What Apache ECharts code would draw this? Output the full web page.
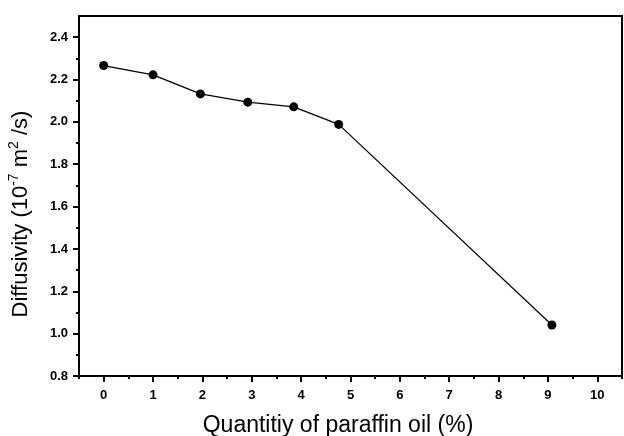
<!DOCTYPE html>
<html>
<head>
<meta charset="utf-8">
<script src="https://cdn.jsdelivr.net/npm/echarts@6/dist/echarts.min.js"></script>
<style>html,body{margin:0;padding:0;background:#fff}#c{width:624px;height:436px}</style>
</head>
<body>
<div id="c"></div>
<script>
var xValues = [0, 1, 1.96, 2.92, 3.85, 4.76, 9.08];
var diffusivity = [2.266, 2.222, 2.132, 2.093, 2.071, 1.988, 1.041];
var xMajorTicks = [0, 1, 2, 3, 4, 5, 6, 7, 8, 9, 10];
var xMinorTicks = [-0.5, 0.5, 1.5, 2.5, 3.5, 4.5, 5.5, 6.5, 7.5, 8.5, 9.5, 10.5];
var yMajorTicks = [0.8, 1.0, 1.2, 1.4, 1.6, 1.8, 2.0, 2.2, 2.4];
var yMinorTicks = [0.9, 1.1, 1.3, 1.5, 1.7, 1.9, 2.1, 2.3];

var chart = echarts.init(document.getElementById('c'));
var font = 'Liberation Sans, Arial, sans-serif';
var labelStyle = {fontFamily: font, fontWeight: 'bold', fontSize: 13, color: '#000'};
chart.setOption({
  animation: false,
  backgroundColor: '#fff',
  grid: {left: 79, top: 16, right: 2, bottom: 60, show: true, borderColor: '#000', borderWidth: 2, containLabel: false, outerBoundsMode: 'none'},
  xAxis: [{
    type: 'value', min: -0.5, max: 10.5, position: 'bottom',
    name: 'Quantitiy of paraffin oil (%)', nameLocation: 'middle', nameGap: 38,
    nameTextStyle: {fontFamily: font, fontSize: 23, color: '#000', padding: [0, 25, 0, 0]},
    axisLine: {show: true, onZero: false, lineStyle: {color: '#000', width: 2}},
    axisTick: {show: true, inside: false, length: 6, customValues: xMajorTicks, lineStyle: {color: '#000', width: 2}},
    axisLabel: {customValues: xMajorTicks, margin: 13, ...labelStyle},
    splitLine: {show: false}
  }, {
    type: 'value', min: -0.5, max: 10.5, position: 'bottom',
    axisLine: {show: false, onZero: false},
    axisTick: {show: true, length: 3, customValues: xMinorTicks, lineStyle: {color: '#000', width: 2}},
    axisLabel: {show: false},
    splitLine: {show: false}
  }],
  yAxis: [{
    type: 'value', min: 0.8, max: 2.5, position: 'left',
    name: '{a|Diffusivity (10}{s|-7}{a| m}{s|2}{a| /s)}', nameLocation: 'middle', nameRotate: 90, nameGap: 44,
    nameTextStyle: {
      padding: [0, 36, 0, 0],
      rich: {
        a: {fontFamily: font, fontSize: 22, color: '#000', lineHeight: 28},
        s: {fontFamily: font, fontSize: 14, color: '#000', verticalAlign: 'top', lineHeight: 14}
      }
    },
    axisLine: {show: true, onZero: false, lineStyle: {color: '#000', width: 2}},
    axisTick: {show: true, length: 6, customValues: yMajorTicks, lineStyle: {color: '#000', width: 2}},
    axisLabel: {customValues: yMajorTicks, margin: 11, formatter: function (v) { return v.toFixed(1); }, ...labelStyle},
    splitLine: {show: false}
  }, {
    type: 'value', min: 0.8, max: 2.5, position: 'left',
    axisLine: {show: false, onZero: false},
    axisTick: {show: true, length: 3, customValues: yMinorTicks, lineStyle: {color: '#000', width: 2}},
    axisLabel: {show: false},
    splitLine: {show: false}
  }],
  series: [{
    type: 'line',
    xAxisIndex: 0, yAxisIndex: 0,
    data: xValues.map(function (x, i) { return [x, diffusivity[i]]; }),
    symbol: 'circle', symbolSize: 9,
    itemStyle: {color: '#000'},
    lineStyle: {color: '#000', width: 1.2}
  }]
});
</script>
</body>
</html>
